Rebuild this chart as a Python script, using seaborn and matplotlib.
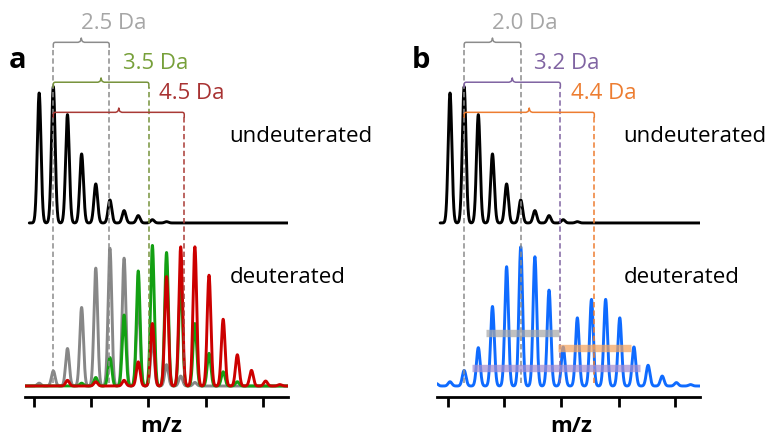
import numpy as np
import pandas as pd
import matplotlib
matplotlib.use("Agg")
import matplotlib.pyplot as plt
import seaborn as sns

# peak positions (isotope index) and heights
undeut_pos = [0, 1, 2, 3, 4, 5, 6, 7, 8, 9]
undeut_h = [0.915, 0.96, 0.763, 0.486, 0.275, 0.162, 0.087, 0.052, 0.023, 0.009]

gray_pos = [0, 1, 2, 3, 4, 5, 6, 7, 8, 9, 10, 11]
gray_h = [0.02, 0.106, 0.264, 0.553, 0.83, 0.97, 0.90, 0.62, 0.33, 0.15, 0.07, 0.025]

green_pos = [3, 4, 5, 6, 7, 8, 9, 10, 11, 12, 13, 14]
green_h = [0.02, 0.06, 0.20, 0.50, 0.81, 0.99, 0.94, 0.75, 0.44, 0.23, 0.10, 0.03]

red_pos = [2, 4, 6, 7, 8, 9, 10, 11, 12, 13, 14, 15, 16, 17]
red_h = [0.04, 0.03, 0.04, 0.17, 0.44, 0.77, 0.98, 0.98, 0.78, 0.47, 0.22, 0.11, 0.035, 0.01]

blue_pos = [-1, 0, 1, 2, 3, 4, 5, 6, 7, 8, 9, 10, 11, 12, 13, 14, 15, 16, 17]
blue_h = [0.02, 0.03, 0.11, 0.27, 0.56, 0.84, 0.98, 0.91, 0.675, 0.275, 0.48, 0.61,
          0.61, 0.48, 0.275, 0.146, 0.07, 0.024, 0.01]

# mass shifts: bracket start / end (isotope index)
shift_labels_a = ["2.5 Da", "3.5 Da", "4.5 Da"]
shift_labels_b = ["2.0 Da", "3.2 Da", "4.4 Da"]
shift_start = 1.0
shift_end_a = [4.95, 7.75, 10.25]
shift_end_b = [5.0, 7.8, 10.2]

# horizontal bars in panel b (start, end, level)
bar_start = [2.51, 7.6, 1.58]
bar_end = [7.71, 12.79, 13.4]
bar_level = [0.375, 0.265, 0.129]

ticks_a = [-0.37, 3.66, 7.71, 11.77, 15.79]
ticks_b = [-0.16, 3.84, 7.86, 11.91, 15.92]

UNDEUT_BASE = 1.148
SIGMA = 0.13
BRACE_Y = [2.42, 2.139, 1.927]


def spectrum(x, pos, h, base=0.0):
    y = np.full_like(x, base)
    for p, hh in zip(pos, h):
        y += hh * np.exp(-0.5 * ((x - p) / SIGMA) ** 2)
    return y


def draw_line(ax, x, y, color, lw):
    df = pd.DataFrame({"x": x, "y": y})
    sns.lineplot(data=df, x="x", y="y", ax=ax, color=color, lw=lw,
                 estimator=None, sort=False, zorder=3)


def brace(ax, x0, x1, y, color):
    xm = (x0 + x1) / 2
    h = 0.035
    xs = [x0, x0, x0 + 0.04, x0 + 0.12, xm - 0.22, xm - 0.08, xm - 0.02, xm,
          xm + 0.02, xm + 0.08, xm + 0.22, x1 - 0.12, x1 - 0.04, x1, x1]
    ys = [y - h, y - 0.012, y - 0.003, y, y, y + 0.006, y + 0.02, y + 0.03,
          y + 0.02, y + 0.006, y, y, y - 0.003, y - 0.012, y - h]
    ax.plot(xs, ys, color=color, lw=1.1, zorder=4, solid_capstyle="round")


sns.set_style("white")
plt.rcParams["font.family"] = ["Open Sans", "DejaVu Sans"]
plt.rcParams["text.color"] = "black"

fig = plt.figure(figsize=(7.71, 4.39), dpi=100)
bottom = (439 - 397.5) / 439
ax_a = fig.add_axes([25 / 771, bottom, 263 / 771, 1 - bottom])
ax_b = fig.add_axes([437 / 771, bottom, 263 / 771, 1 - bottom])

panels = [
    (ax_a, (-1.0, 17.58), ticks_a, "a", -1.5, shift_labels_a, shift_end_a,
     ["#8c8c8c", "#77933c", "#a93a36"], ["#a6a6a6", "#77a03a", "#a83232"],
     [5.25, 8.22, 10.78], 13.43, 13.5),
    (ax_b, (-0.92, 17.67), ticks_b, "b", -2.09, shift_labels_b, shift_end_b,
     ["#8c8c8c", "#8064a2", "#ed7d31"], ["#a6a6a6", "#8064a2", "#ed7d31"],
     [5.29, 8.23, 10.88], 12.22, 12.31),
]

for (ax, xlim, ticks, letter, letter_x, labels, ends, line_cols, text_cols,
     label_x, und_x, deu_x) in panels:
    x = np.linspace(xlim[0], xlim[1], 3000)
    xu = x[x >= -0.7]
    draw_line(ax, xu, spectrum(xu, undeut_pos, undeut_h, UNDEUT_BASE), "black", 2.1)
    if letter == "a":
        draw_line(ax, x, spectrum(x, gray_pos, gray_h), "#878787", 2.1)
        draw_line(ax, x, spectrum(x, green_pos, green_h), "#13a013", 2.1)
        draw_line(ax, x, spectrum(x, red_pos, red_h), "#cc0000", 2.1)
    else:
        draw_line(ax, x, spectrum(x, blue_pos, blue_h), "#0f6bff", 2.1)
        for s, e, lv, c in zip(bar_start, bar_end, bar_level,
                               ["#a8a8a8", "#f4a460", "#a58fd0"]):
            ax.plot([s, e], [lv, lv], color=c, lw=5.3, alpha=0.72,
                    solid_capstyle="butt", zorder=5)

    # brackets, dashed guide lines and labels
    ax.plot([shift_start, shift_start], [0.02, BRACE_Y[0] - 0.035],
            ls=(0, (3.5, 2)), color=line_cols[0], lw=1.1, zorder=4)
    for i in range(3):
        brace(ax, shift_start, ends[i], BRACE_Y[i], line_cols[i])
        ax.plot([ends[i], ends[i]], [0.02, BRACE_Y[i] - 0.035],
                ls=(0, (3.5, 2)), color=line_cols[i], lw=1.1, zorder=4)
        ax.text(label_x[i], BRACE_Y[i] + 0.14, labels[i], color=text_cols[i],
                fontsize=16, ha="center", va="center")

    ax.text(letter_x, 2.244, letter, fontsize=21, fontweight="bold",
            ha="center", va="baseline", clip_on=False)
    ax.text(und_x, 1.727, "undeuterated", fontsize=16, ha="left", va="baseline")
    ax.text(deu_x, 0.735, "deuterated", fontsize=16, ha="left", va="baseline")
    ax.text(8.6, -0.275, "m/z", fontsize=16, fontweight="bold",
            ha="center", va="center", clip_on=False)

    ax.set_xlim(*xlim)
    ax.set_ylim(-0.074, 2.725)
    ax.set_xticks(ticks)
    ax.set_xticklabels([])
    ax.set_yticks([])
    ax.set_xlabel("")
    ax.set_ylabel("")
    ax.tick_params(axis="x", direction="out", length=7, width=2, color="black",
                   bottom=True)
    for side in ["top", "left", "right"]:
        ax.spines[side].set_visible(False)
    ax.spines["bottom"].set_linewidth(2)
    ax.spines["bottom"].set_color("black")
    ax.patch.set_alpha(0)

fig.savefig("out.png", dpi=100)
